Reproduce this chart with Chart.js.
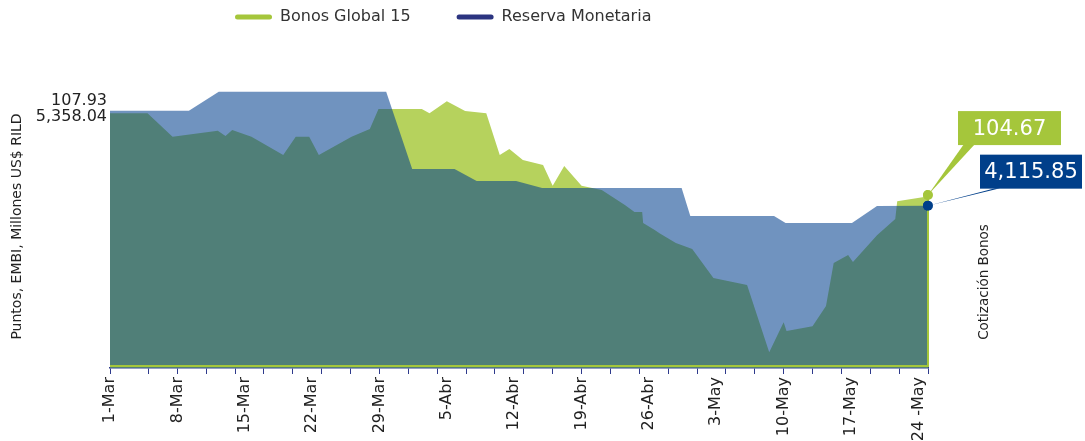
<!DOCTYPE html>
<html>
<head>
<meta charset="utf-8">
<script src="https://cdn.jsdelivr.net/npm/chart.js@4.4.1/dist/chart.umd.min.js"></script>
<style>
  html, body { margin: 0; padding: 0; background: #fff; }
  #wrap { width: 1085px; height: 441px; }
</style>
</head>
<body>
<div id="wrap"><canvas id="chart"></canvas></div>
<script>
// x axis is counted in days from 1-Mar
const xLabels = ['1-Mar', '8-Mar', '15-Mar', '22-Mar', '29-Mar', '5-Abr', '12-Abr',
                 '19-Abr', '26-Abr', '3-May', '10-May', '17-May', '24 -May'];
const tickDays = [0, 4, 7, 10, 13, 16, 19, 22, 25, 28, 31, 34, 37, 40, 43, 46, 49,
                  52, 55, 58, 61, 64, 67, 70, 73, 76, 79, 82, 85];

const bonosDays = [0, 3.9, 6.5, 11.2, 12.0, 12.7, 14.7, 18.0, 19.3, 20.7, 21.7, 25.1,
                   27.0, 27.9, 32.4, 33.2, 35.0, 36.9, 39.1, 40.5, 41.5, 42.9, 45.0,
                   46.0, 47.2, 49.0, 50.1, 51.1, 53.5, 54.5, 55.3, 55.4, 56.6, 57.1,
                   58.8, 60.5, 62.7, 66.2, 68.5, 70.0, 70.3, 73.0, 74.4, 75.2, 76.7,
                   77.2, 79.7, 81.6, 81.8, 84.6, 85];
const bonosValues = [107.51, 107.51, 106.69, 106.90, 106.72, 106.93, 106.69, 106.06,
                     106.69, 106.69, 106.06, 106.69, 106.96, 107.66, 107.66, 107.51,
                     107.93, 107.59, 107.51, 106.06, 106.27, 105.89, 105.71, 104.99,
                     105.68, 104.99, 104.92, 104.85, 104.33, 104.08, 104.08, 103.70,
                     103.46, 103.35, 103.01, 102.80, 101.79, 101.55, 99.22, 100.26,
                     99.95, 100.12, 100.82, 102.31, 102.59, 102.35, 103.28, 103.84,
                     104.46, 104.60, 104.67];

const reservaDays = [0, 8.2, 11.3, 28.7, 31.4, 35.8, 38.1, 42.2, 44.9, 59.4, 60.3,
                     69.0, 70.2, 77.1, 79.7, 85];
const reservaValues = [5445, 5445, 5711, 5711, 4629, 4629, 4461, 4461, 4363, 4363,
                       3971, 3971, 3873, 3873, 4111, 4115.85];

const bonosAxisValue = 107.93;
const reservaAxisValue = 5358.04;

const GREEN_AREA = 'rgb(182, 210, 93)';
const GREEN = '#a5c63b';
const BLUE = '#003f8a';
const BLUE_AREA = 'rgba(0, 62, 140, 0.56)';
const NAVY = '#2b3480';
const FONT = "'DejaVu Sans', Verdana, sans-serif";

Chart.defaults.font.family = FONT;
Chart.defaults.color = '#222';

function fmt(v) {
    return v.toLocaleString('en-US', { minimumFractionDigits: 2, maximumFractionDigits: 2 });
}

function toPoints(days, values) {
    return days.map((d, i) => ({ x: d, y: values[i] }));
}

const lastOnly = n => ctx => ctx.dataIndex === n - 1 ? 5 : 0;

const extras = {
    id: 'extras',
    afterLayout(chart) {
        // legend sits left of centre in the original
        chart.legend.left = 189;
        chart.legend.top = -37;
    },
    afterDatasetsDraw(chart) {
        const ctx = chart.ctx;
        const area = chart.chartArea;
        const gMeta = chart.getDatasetMeta(0);
        const bMeta = chart.getDatasetMeta(1);
        const gp = gMeta.data[gMeta.data.length - 1];
        const bp = bMeta.data[bMeta.data.length - 1];

        ctx.save();
        // green outline along the base and the right edge
        ctx.strokeStyle = GREEN;
        ctx.lineWidth = 2;
        ctx.beginPath();
        ctx.moveTo(area.left, area.bottom - 2);
        ctx.lineTo(gp.x, area.bottom - 2);
        ctx.lineTo(gp.x, gp.y);
        ctx.stroke();
        gp.draw(ctx, area);
        bp.draw(ctx, area);

        // callout for Bonos
        ctx.fillStyle = GREEN;
        ctx.beginPath();
        ctx.moveTo(gp.x, gp.y);
        ctx.lineTo(gp.x + 36, gp.y - 51);
        ctx.lineTo(gp.x + 47, gp.y - 51);
        ctx.closePath();
        ctx.fill();
        ctx.fillRect(gp.x + 30, gp.y - 84, 103, 34);

        // callout for Reserva
        ctx.fillStyle = BLUE;
        ctx.beginPath();
        ctx.moveTo(bp.x, bp.y);
        ctx.lineTo(bp.x + 67, bp.y - 17.5);
        ctx.lineTo(bp.x + 72, bp.y - 17.5);
        ctx.closePath();
        ctx.fill();
        ctx.fillRect(bp.x + 52, bp.y - 51, 102, 34);

        ctx.fillStyle = '#fff';
        ctx.font = '21px ' + FONT;
        ctx.textAlign = 'center';
        ctx.textBaseline = 'middle';
        ctx.fillText(fmt(bonosValues[bonosValues.length - 1]), gp.x + 81.5, gp.y - 66);
        ctx.fillText(fmt(reservaValues[reservaValues.length - 1]), bp.x + 103, bp.y - 33);

        // second axis value on the left
        ctx.fillStyle = '#222';
        ctx.font = '16px ' + FONT;
        ctx.textAlign = 'right';
        ctx.fillText(fmt(reservaAxisValue), area.left - 3, chart.scales.yR.getPixelForValue(reservaAxisValue));

        // right-hand label
        ctx.font = '13.5px ' + FONT;
        ctx.textAlign = 'center';
        ctx.translate(984, 282);
        ctx.rotate(-Math.PI / 2);
        ctx.fillText('Cotización Bonos', 0, 0);
        ctx.restore();
    }
};

new Chart(document.getElementById('chart'), {
    type: 'line',
    data: {
        datasets: [
            {
                label: 'Bonos Global 15',
                data: toPoints(bonosDays, bonosValues),
                yAxisID: 'y',
                order: 2,
                fill: 'start',
                backgroundColor: GREEN_AREA,
                borderColor: 'rgba(0,0,0,0)',
                borderWidth: 0,
                tension: 0,
                pointRadius: lastOnly(bonosDays.length),
                pointBackgroundColor: GREEN,
                pointBorderWidth: 0
            },
            {
                label: 'Reserva Monetaria',
                data: toPoints(reservaDays, reservaValues),
                yAxisID: 'yR',
                order: 1,
                fill: 'start',
                backgroundColor: BLUE_AREA,
                borderColor: 'rgba(0,0,0,0)',
                borderWidth: 0,
                tension: 0,
                pointRadius: lastOnly(reservaDays.length),
                pointBackgroundColor: BLUE,
                pointBorderWidth: 0
            }
        ]
    },
    options: {
        responsive: true,
        maintainAspectRatio: false,
        animation: false,
        devicePixelRatio: 1,
        layout: { padding: { top: 13, right: 157, left: 0, bottom: 0 } },
        plugins: {
            tooltip: { enabled: false },
            legend: {
                position: 'top',
                align: 'start',
                labels: {
                    padding: 46,
                    boxWidth: 37,
                    boxHeight: 5,
                    useBorderRadius: true,
                    borderRadius: 2.5,
                    color: '#333',
                    font: { size: 16 },
                    sort: (a, b) => a.datasetIndex - b.datasetIndex,
                    generateLabels(chart) {
                        const items = Chart.defaults.plugins.legend.labels.generateLabels(chart);
                        items.forEach(it => {
                            it.fillStyle = it.datasetIndex === 0 ? GREEN : NAVY;
                            it.strokeStyle = it.fillStyle;
                            it.lineWidth = 0;
                        });
                        return items;
                    }
                }
            }
        },
        scales: {
            x: {
                type: 'linear',
                min: 0,
                max: 85,
                afterBuildTicks(scale) {
                    const t = [];
                    for (let d = 0; d <= 85; d++) t.push({ value: d });
                    scale.ticks = t;
                },
                afterFit(scale) { scale.height = 73; },
                ticks: {
                    autoSkip: false,
                    minRotation: 90,
                    maxRotation: 90,
                    padding: 3,
                    color: '#222',
                    font: { size: 16 },
                    callback: v => (v % 7 === 0 ? xLabels[v / 7] : '')
                },
                grid: {
                    drawOnChartArea: false,
                    drawTicks: true,
                    tickLength: 6,
                    lineWidth: 1,
                    color: ctx => (ctx.tick && tickDays.includes(ctx.tick.value) ? '#2e3a8c' : 'rgba(0,0,0,0)')
                },
                border: { display: true, color: '#2e3a8c', width: 1.5 }
            },
            y: {
                position: 'left',
                min: 98.67,
                max: 108.49,
                afterBuildTicks(scale) { scale.ticks = [{ value: bonosAxisValue }]; },
                afterFit(scale) { scale.width = 110; },
                ticks: {
                    padding: 3,
                    color: '#222',
                    font: { size: 16 },
                    callback: v => fmt(v)
                },
                grid: { display: false, drawTicks: false },
                border: { display: false },
                title: {
                    display: true,
                    text: 'Puntos, EMBI, Millones US$ RILD',
                    color: '#222',
                    font: { size: 14 },
                    padding: { top: 9, bottom: 0 }
                }
            },
            yR: {
                display: false,
                min: 1843,
                max: 5805
            }
        }
    },
    plugins: [extras]
});
</script>
</body>
</html>
